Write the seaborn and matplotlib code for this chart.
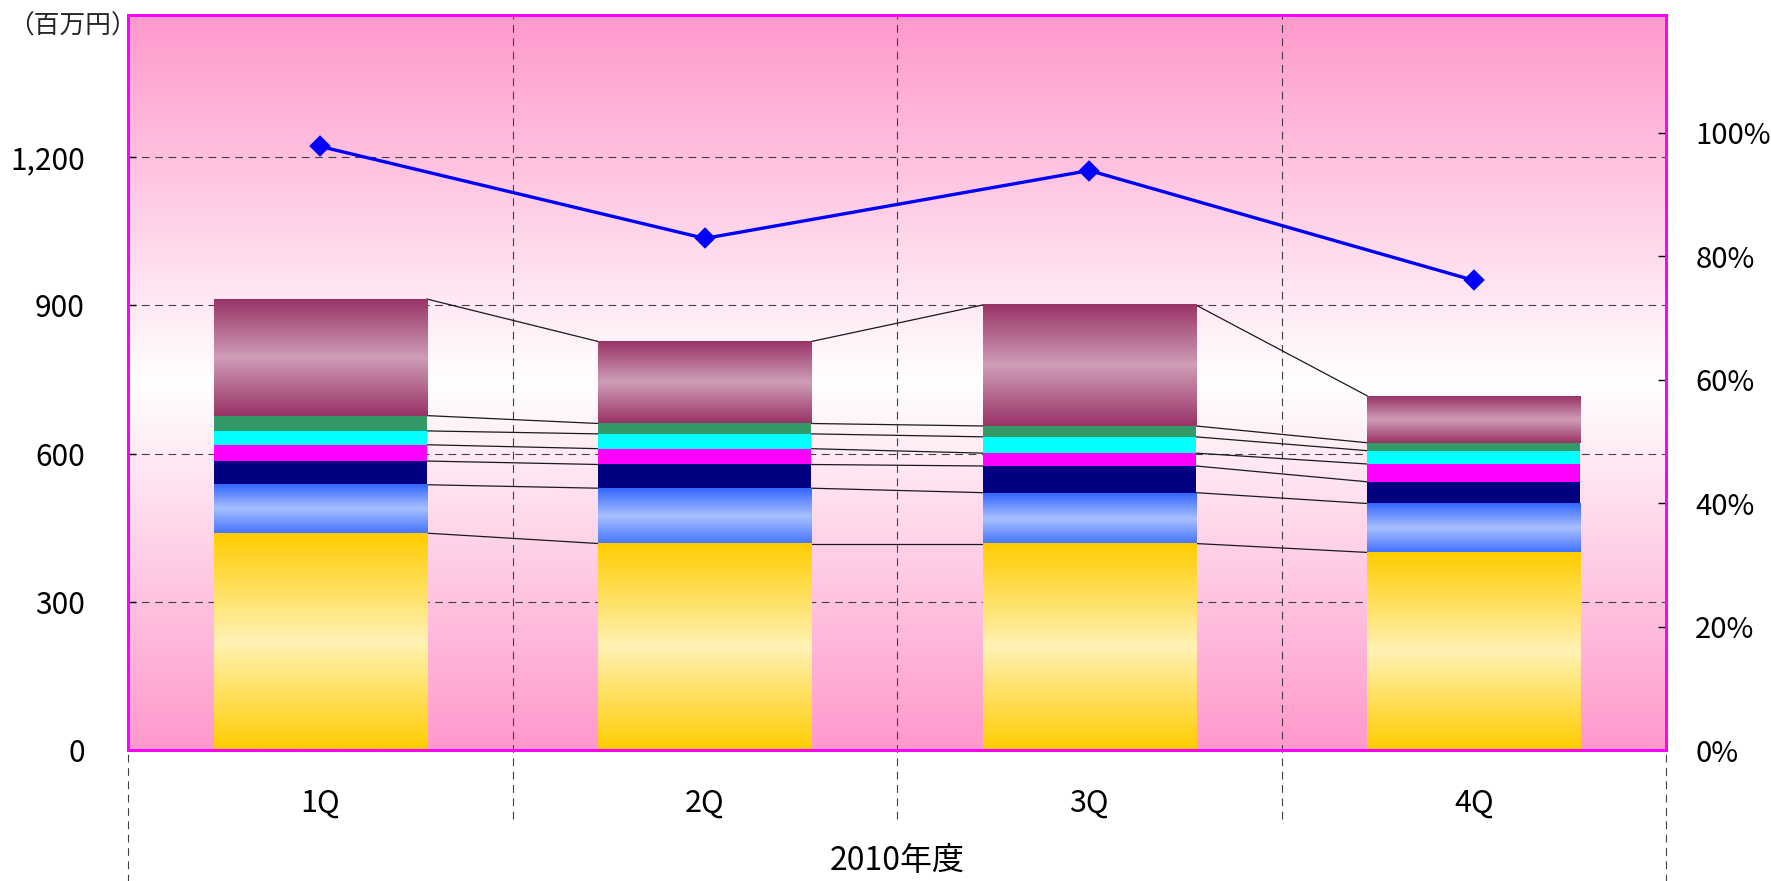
import numpy as np
import seaborn as sns
import matplotlib.pyplot as plt
from matplotlib.colors import LinearSegmentedColormap
from matplotlib.ticker import FuncFormatter, PercentFormatter

# values (百万円), stacked bottom -> top
quarters = ["1Q", "2Q", "3Q", "4Q"]
seg_yellow = [439, 418, 418, 400]
seg_blue = [98, 112, 103, 99]
seg_navy = [48, 48, 54, 44]
seg_magenta = [33, 32, 26, 36]
seg_cyan = [28, 30, 33, 27]
seg_green = [31, 21, 22, 16]
seg_maroon = [236, 166, 245, 95]
# line on the right axis
ratio = [0.978, 0.829, 0.939, 0.761]

left_ticks = [0, 300, 600, 900, 1200]
right_ticks = [0, 0.2, 0.4, 0.6, 0.8, 1.0]

sns.set_theme(style="white")
plt.rcParams["font.family"] = ["Noto Sans CJK JP", "DejaVu Sans"]

fig, ax = plt.subplots(figsize=(17.71, 8.81), dpi=100)
fig.subplots_adjust(left=128 / 1771, right=1666 / 1771, top=1 - 15 / 881, bottom=1 - 750 / 881)

pink = "#FF99CC"
border = "#FF00FF"
dash = (0, (7, 5))

# background gradient pink -> white -> pink
bg_cmap = LinearSegmentedColormap.from_list("bg", [pink, "#FFFFFF", pink])
grad = np.linspace(0, 1, 256).reshape(-1, 1)
ax.imshow(grad, extent=[0, 1, 0, 1], transform=ax.transAxes, cmap=bg_cmap,
          aspect="auto", zorder=0, interpolation="bilinear")

layers = [
    (seg_yellow, ["#FFCC00", "#FFF2B5", "#FFCC00"]),
    (seg_blue, ["#3366FF", "#A8C0FF", "#4573FF"]),
    (seg_navy, "#000080"),
    (seg_magenta, "#FF00FF"),
    (seg_cyan, "#00FFFF"),
    (seg_green, "#339966"),
    (seg_maroon, ["#993366", "#CF9DB8", "#993366"]),
]
cum = np.cumsum([np.array(v, float) for v, _ in layers], axis=0)
bar_w = 0.554

layer_patches = {}
for i in reversed(range(len(layers))):
    vals, style = layers[i]
    n0 = len(ax.patches)
    base = style if isinstance(style, str) else style[0]
    sns.barplot(x=quarters, y=cum[i], ax=ax, color=base, width=bar_w,
                saturation=1, linewidth=0, errorbar=None, zorder=2)
    pats = ax.patches[n0:]
    layer_patches[i] = pats
    if not isinstance(style, str):
        cmap = LinearSegmentedColormap.from_list(f"g{i}", style)
        bottoms = cum[i - 1] if i > 0 else np.zeros(len(quarters))
        for p, b, t in zip(pats, bottoms, cum[i]):
            ax.imshow(grad, extent=[p.get_x(), p.get_x() + p.get_width(), b, t],
                      cmap=cmap, aspect="auto", zorder=2.5, interpolation="bilinear")

# series lines between neighbouring bars
for i in range(len(layers)):
    pats = layer_patches[i]
    for k in range(len(quarters) - 1):
        x0 = pats[k].get_x() + pats[k].get_width()
        x1 = pats[k + 1].get_x()
        ax.plot([x0, x1], [cum[i][k], cum[i][k + 1]], color="#1a1a1a", lw=0.9, zorder=1.5)

ax.set_xlim(-0.5, len(quarters) - 0.5)
ax.set_ylim(0, 1488)
ax.set_yticks(left_ticks)
ax.yaxis.set_major_formatter(FuncFormatter(lambda v, _: f"{v:,.0f}"))
ax.set_axisbelow(True)
ax.yaxis.grid(True, color="#404040", lw=0.8, linestyle=dash)
ax.xaxis.grid(False)
ax.axhline(0, color="#303030", lw=0.8, linestyle=dash, zorder=4)

# category separators, running below the plot
xt = ax.get_xaxis_transform()
ax.vlines([0.5, 1.5, 2.5], -0.094, 1, transform=xt, clip_on=False,
          color="#404040", lw=0.8, linestyles=[dash], zorder=1)
ax.vlines([-0.5, 3.5], -0.18, 0, transform=xt, clip_on=False,
          color="#404040", lw=0.8, linestyles=[dash], zorder=1)

ax.tick_params(axis="y", direction="in", length=6, width=1, color="black",
               pad=31, labelsize=21.5, labelcolor="black")
ax.tick_params(axis="x", length=0, pad=27, labelsize=22, labelcolor="black")
ax.set_ylabel("")
ax.set_xlabel("2010年度", fontsize=23, labelpad=19, color="black")

for s in ax.spines.values():
    s.set_visible(True)
    s.set_color(border)
    s.set_linewidth(2)

# ratio line on the secondary axis
ax2 = ax.twinx()
sns.pointplot(x=quarters, y=ratio, ax=ax2, color="#0000FF", markers="D",
              markersize=9, linewidth=2.4, errorbar=None)
ax2.set_xlim(-0.5, len(quarters) - 0.5)
ax2.set_ylim(0, 1.191)
ax2.set_yticks(right_ticks)
ax2.yaxis.set_major_formatter(PercentFormatter(1.0, decimals=0))
ax2.tick_params(axis="y", direction="in", length=6, width=1, color="black",
                pad=21, labelsize=21, labelcolor="black")
ax2.set_ylabel("")
ax2.set_xlabel("")
ax2.grid(False)
for s in ax2.spines.values():
    s.set_color(border)
    s.set_linewidth(2)

fig.text(8 / 1771, 1 - 27 / 881, "（百万円）", fontsize=18.5, ha="left", va="center")

fig.savefig("out.png", dpi=100)
